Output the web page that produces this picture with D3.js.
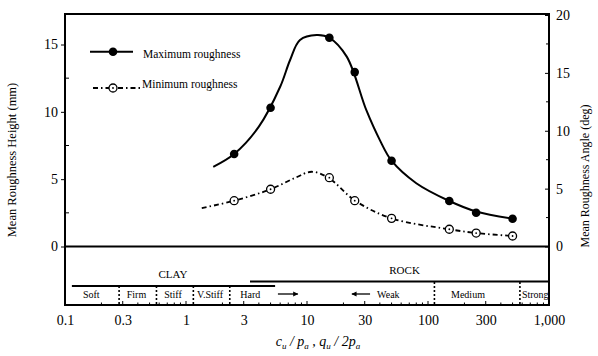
<!DOCTYPE html>
<html>
<head>
<meta charset="utf-8">
<script src="https://cdn.jsdelivr.net/npm/d3@7"></script>
<style>
  body { margin: 0; background: #fff; }
  text { font-family: "Liberation Serif", "Times New Roman", serif; fill: #000; }
</style>
</head>
<body>
<script>
// pontos medidos
var pontosX = [2.5, 5, 15.3, 24.8, 50, 150, 250, 500];
var rugMax = [6.87, 10.3, 15.5, 12.95, 6.37, 3.38, 2.51, 2.06];
var rugMin = [3.4, 4.25, 5.11, 3.4, 2.09, 1.28, 1.0, 0.78];

// curvas ajustadas
var curvaMaxX = [1.68, 2.5, 4, 6, 7.25, 8.75, 12, 15.3, 21.3, 31, 40, 50, 80, 150, 250, 500];
var curvaMaxY = [5.92, 6.87, 8.9, 11.86, 13.85, 15.33, 15.7, 15.5, 14.1, 10.1, 7.9, 6.37, 4.7, 3.38, 2.6, 2.06];
var curvaMinX = [1.35, 2.5, 5, 8, 10.9, 15, 25, 50, 150, 250, 500];
var curvaMinY = [2.85, 3.4, 4.25, 5.1, 5.55, 5.11, 3.4, 2.09, 1.28, 1.0, 0.78];

var ticksX = [0.1, 0.3, 1, 3, 10, 30, 100, 300, 1000];
var ticksAltura = [0, 5, 10, 15];
var ticksAngulo = [0, 5, 10, 15, 20];

var classesArgila = ["Soft", "Firm", "Stiff", "V.Stiff", "Hard"];
var posArgila = [0.165, 0.39, 0.78, 1.58, 3.4];
var divisoesArgila = [0.28, 0.57, 1.15, 2.3];
var classesRocha = ["Weak", "Medium"];
var posRocha = [47, 214];
var divisoesRocha = [113, 575];

var largura = 598, altura = 356;
var esq = 65, dir = 549, topo = 14, base = 305;

var svg = d3.select("body").append("svg")
            .attr("width", largura)
            .attr("height", altura);

var x = d3.scaleLog().domain([0.1, 1000]).range([esq, dir]);
var y = d3.scaleLinear().domain([0, 15]).range([246.5, 44.5]);
var yAng = d3.scaleLinear().domain([0, 20]).range([246.5, 15]);

svg.append("clipPath").attr("id", "quadro")
   .append("rect").attr("x", esq).attr("y", topo)
   .attr("width", dir - esq - 1).attr("height", base - topo);

// eixo esquerdo
var eixoE = svg.append("g")
               .attr("transform", "translate(" + esq + ",0)")
               .call(d3.axisLeft(y).tickValues(ticksAltura).tickSize(4).tickPadding(3));
eixoE.select(".domain").remove();
eixoE.selectAll("text").style("font-size", "14px").style("font-family", "Liberation Serif");
svg.selectAll(".minE")
   .data([2.5, 7.5, 12.5])
   .enter().append("line")
   .attr("x1", esq).attr("x2", esq + 4)
   .attr("y1", function(d) { return y(d); })
   .attr("y2", function(d) { return y(d); })
   .attr("stroke", "black");

// eixo direito
var eixoD = svg.append("g")
               .attr("transform", "translate(" + dir + ",0)")
               .call(d3.axisRight(yAng).tickValues(ticksAngulo).tickSizeInner(-4).tickSizeOuter(0).tickPadding(7));
eixoD.select(".domain").remove();
eixoD.selectAll("text").style("font-size", "14px").style("font-family", "Liberation Serif");
svg.selectAll(".minD")
   .data([2.5, 7.5, 12.5, 17.5])
   .enter().append("line")
   .attr("x1", dir - 3).attr("x2", dir)
   .attr("y1", function(d) { return yAng(d); })
   .attr("y2", function(d) { return yAng(d); })
   .attr("stroke", "black");

// eixo x
var todosTicks = x.ticks(40);
var eixoX = svg.append("g")
               .attr("transform", "translate(0," + base + ")")
               .call(d3.axisBottom(x).tickValues(ticksX).tickFormat(d3.format(",")).tickSize(0).tickPadding(10));
eixoX.select(".domain").remove();
eixoX.selectAll("text").style("font-size", "14px").style("font-family", "Liberation Serif");
svg.selectAll(".minX")
   .data(todosTicks)
   .enter().append("line")
   .attr("x1", function(d) { return x(d); })
   .attr("x2", function(d) { return x(d); })
   .attr("y1", base)
   .attr("y2", function(d) { return ticksX.indexOf(d) >= 0 ? base - 4 : base - 2.5; })
   .attr("stroke", "black");

// moldura
svg.append("rect")
   .attr("x", esq).attr("y", topo)
   .attr("width", dir - esq).attr("height", base - topo)
   .attr("fill", "none").attr("stroke", "black").attr("stroke-width", 2);
svg.append("line")
   .attr("x1", esq).attr("x2", dir)
   .attr("y1", y(0)).attr("y2", y(0))
   .attr("stroke", "black").attr("stroke-width", 2.2);

// curvas
var linha = d3.line()
              .x(function(d) { return x(d[0]); })
              .y(function(d) { return y(d[1]); })
              .curve(d3.curveCatmullRom.alpha(0.5));
svg.append("path")
   .attr("d", linha(d3.zip(curvaMaxX, curvaMaxY)))
   .attr("fill", "none").attr("stroke", "black").attr("stroke-width", 2);
svg.append("path")
   .attr("d", linha(d3.zip(curvaMinX, curvaMinY)))
   .attr("fill", "none").attr("stroke", "black").attr("stroke-width", 1.8)
   .attr("stroke-dasharray", "5,3,1.5,3");

svg.selectAll(".ptMax")
   .data(d3.zip(pontosX, rugMax))
   .enter().append("circle")
   .attr("cx", function(d) { return x(d[0]); })
   .attr("cy", function(d) { return y(d[1]); })
   .attr("r", 4.3)
   .attr("fill", "black");

var ptMin = svg.selectAll(".ptMin")
               .data(d3.zip(pontosX, rugMin))
               .enter().append("g")
               .attr("transform", function(d) { return "translate(" + x(d[0]) + "," + y(d[1]) + ")"; });
ptMin.append("circle").attr("r", 4).attr("fill", "white").attr("stroke", "black").attr("stroke-width", 1.3);
ptMin.append("circle").attr("r", 0.9).attr("fill", "black");

// legenda
svg.append("line").attr("x1", 90).attr("x2", 133).attr("y1", 51.7).attr("y2", 51.7)
   .attr("stroke", "black").attr("stroke-width", 2);
svg.append("circle").attr("cx", 113).attr("cy", 51.7).attr("r", 4.3).attr("fill", "black");
svg.append("text").attr("x", 143).attr("y", 57.5).style("font-size", "11.5px").text("Maximum roughness");
svg.append("line").attr("x1", 93).attr("x2", 142).attr("y1", 88).attr("y2", 88)
   .attr("stroke", "black").attr("stroke-width", 1.8).attr("stroke-dasharray", "5,3,1.5,3");
svg.append("circle").attr("cx", 113).attr("cy", 88).attr("r", 4).attr("fill", "white")
   .attr("stroke", "black").attr("stroke-width", 1.3);
svg.append("circle").attr("cx", 113).attr("cy", 88).attr("r", 0.9).attr("fill", "black");
svg.append("text").attr("x", 142).attr("y", 88).style("font-size", "11.5px").text("Minimum roughness");

// classificacao
svg.append("text").attr("x", x(0.78)).attr("y", 278).attr("text-anchor", "middle")
   .style("font-size", "11px").text("CLAY");
svg.append("text").attr("x", x(64)).attr("y", 274).attr("text-anchor", "middle")
   .style("font-size", "11px").text("ROCK");
svg.append("line").attr("x1", x(0.114)).attr("x2", x(5.45)).attr("y1", 286).attr("y2", 286)
   .attr("stroke", "black").attr("stroke-width", 2);
svg.append("line").attr("x1", x(3.38)).attr("x2", dir).attr("y1", 281.5).attr("y2", 281.5)
   .attr("stroke", "black").attr("stroke-width", 2);

svg.selectAll(".divs")
   .data(divisoesArgila.concat(divisoesRocha))
   .enter().append("line")
   .attr("x1", function(d) { return x(d); })
   .attr("x2", function(d) { return x(d); })
   .attr("y1", function(d) { return d > 100 ? 282 : 286; })
   .attr("y2", base)
   .attr("stroke", "black").attr("stroke-width", 1.6).attr("stroke-dasharray", "2,2");

svg.selectAll(".rotArgila")
   .data(classesArgila)
   .enter().append("text")
   .attr("x", function(d, i) { return x(posArgila[i]); })
   .attr("y", 298)
   .attr("text-anchor", "middle")
   .style("font-size", "10px")
   .text(function(d) { return d; });
svg.selectAll(".rotRocha")
   .data(classesRocha)
   .enter().append("text")
   .attr("x", function(d, i) { return x(posRocha[i]); })
   .attr("y", 298)
   .attr("text-anchor", "middle")
   .style("font-size", "10px")
   .text(function(d) { return d; });
svg.append("text")
   .attr("x", x(575) + 2).attr("y", 298)
   .attr("clip-path", "url(#quadro)")
   .style("font-size", "10px")
   .text("Strong");

svg.append("defs").append("marker")
   .attr("id", "seta").attr("viewBox", "0 0 10 10")
   .attr("refX", 9).attr("refY", 5)
   .attr("markerWidth", 6).attr("markerHeight", 4)
   .attr("orient", "auto")
   .append("path").attr("d", "M0,0L10,5L0,10z").attr("fill", "black");
svg.append("line").attr("x1", x(5.75)).attr("x2", x(8.4)).attr("y1", 294).attr("y2", 294)
   .attr("stroke", "black").attr("stroke-width", 1.3).attr("marker-end", "url(#seta)");
svg.append("line").attr("x1", x(33.2)).attr("x2", x(23.5)).attr("y1", 294).attr("y2", 294)
   .attr("stroke", "black").attr("stroke-width", 1.3).attr("marker-end", "url(#seta)");

// titulos dos eixos
svg.append("text")
   .attr("transform", "translate(16,160) rotate(-90)")
   .attr("text-anchor", "middle")
   .style("font-size", "12.5px")
   .text("Mean Roughness Height (mm)");
svg.append("text")
   .attr("transform", "translate(589,176) rotate(-90)")
   .attr("text-anchor", "middle")
   .style("font-size", "12px")
   .text("Mean Roughness Angle (deg)");

var tituloX = svg.append("text")
                 .attr("x", 318).attr("y", 346)
                 .attr("text-anchor", "middle")
                 .style("font-size", "14px").style("font-style", "italic");
tituloX.append("tspan").text("c");
tituloX.append("tspan").attr("dy", 3).style("font-size", "9px").text("u");
tituloX.append("tspan").attr("dy", -3).text(" / p");
tituloX.append("tspan").attr("dy", 3).style("font-size", "9px").text("a");
tituloX.append("tspan").attr("dy", -3).text(" , q");
tituloX.append("tspan").attr("dy", 3).style("font-size", "9px").text("u");
tituloX.append("tspan").attr("dy", -3).text(" / 2p");
tituloX.append("tspan").attr("dy", 3).style("font-size", "9px").text("a");
</script>
</body>
</html>
